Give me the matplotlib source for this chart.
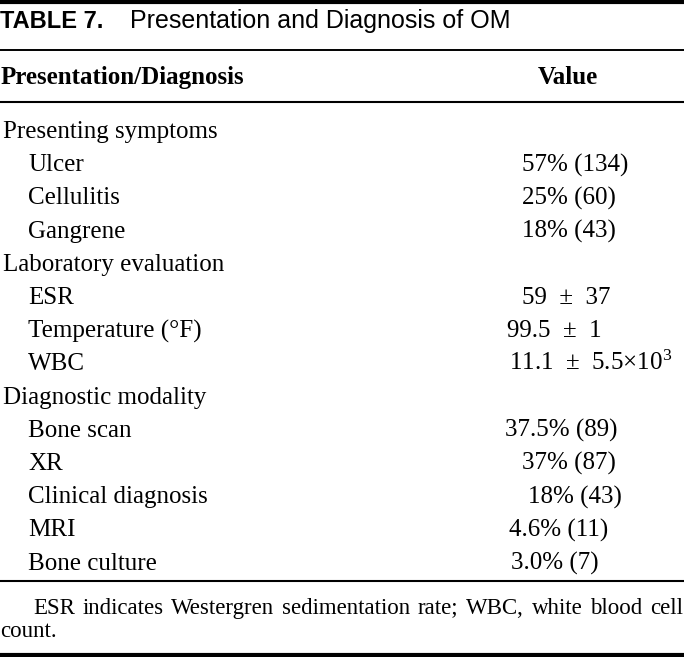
import matplotlib
matplotlib.use("Agg")
import matplotlib.pyplot as plt

# ---- data ----
title_label = "TABLE 7."
title_text = "Presentation and Diagnosis of OM"
header_left = "Presentation/Diagnosis"
header_right = "Value"

section_names = ["Presenting symptoms", "Laboratory evaluation", "Diagnostic modality"]
presenting_items = ["Ulcer", "Cellulitis", "Gangrene"]
presenting_values = ["57% (134)", "25% (60)", "18% (43)"]
lab_items = ["ESR", "Temperature (°F)", "WBC"]
lab_values = ["59 ± 37", "99.5 ± 1", "11.1 ± 5.5×10$^{3}$"]
diag_items = ["Bone scan", "XR", "Clinical diagnosis", "MRI", "Bone culture"]
diag_values = ["37.5% (89)", "37% (87)", "18% (43)", "4.6% (11)", "3.0% (7)"]

footnote_line1 = "ESR indicates Westergren sedimentation rate; WBC, white blood cell"
footnote_line2 = "count."

# ---- layout (pixels) ----
W, H = 684, 657
SERIF = "Liberation Serif"
SANS = "Liberation Sans"
plt.rcParams["mathtext.fontset"] = "custom"
plt.rcParams["mathtext.rm"] = SERIF
plt.rcParams["mathtext.it"] = SERIF

fig = plt.figure(figsize=(W / 100, H / 100), dpi=100)
ax = fig.add_axes([0, 0, 1, 1])
ax.set_xlim(0, W)
ax.set_ylim(H, 0)
ax.axis("off")

# rules
ax.axhline(2, color="black", lw=3.0)
ax.axhline(50, color="black", lw=1.4)
ax.axhline(101.5, color="black", lw=1.5)
ax.axhline(581, color="black", lw=1.5)
ax.axhline(655, color="black", lw=3.0)

# title
ax.text(0, 28, title_label, fontfamily=SANS, fontweight="bold", fontsize=17, va="baseline")
ax.text(130, 28, title_text, fontfamily=SANS, fontsize=18, va="baseline")

# header
ax.text(1, 84, header_left, fontfamily=SERIF, fontweight="bold", fontsize=18, va="baseline")
ax.text(568, 84, header_right, fontfamily=SERIF, fontweight="bold", fontsize=18, va="baseline", ha="center")

# body rows
rows = []
groups = [(presenting_items, presenting_values), (lab_items, lab_values), (diag_items, diag_values)]
for name, (items, vals) in zip(section_names, groups):
    rows.append((name, None, False))
    for it, v in zip(items, vals):
        rows.append((it, v, True))

value_x = [522, 522, 522, 522, 507, 509, 505, 522, 528, 509, 511]
y0, dy = 138, 33.2
vi = 0
for i, (label, val, indent) in enumerate(rows):
    yb = y0 + i * dy
    ax.text(28 if indent else 3, yb, label, fontfamily=SERIF, fontsize=18, va="baseline")
    if val is not None:
        ax.text(value_x[vi], yb, val.replace(" ± ", "  ±  "), fontfamily=SERIF,
                fontsize=18, va="baseline")
        vi += 1

# footnote, justified first line
fig.canvas.draw()
renderer = fig.canvas.get_renderer()
words = footnote_line1.split(" ")
arts = [ax.text(0, 614, w, fontfamily=SERIF, fontsize=16.5, va="baseline") for w in words]
widths = [a.get_window_extent(renderer).width for a in arts]
left, right = 33, 683
gap = (right - left - sum(widths)) / (len(words) - 1)
x = left
for a, w in zip(arts, widths):
    a.set_x(x)
    x += w + gap
ax.text(0, 637, footnote_line2, fontfamily=SERIF, fontsize=16.5, va="baseline")

fig.savefig("out.png", dpi=100)
